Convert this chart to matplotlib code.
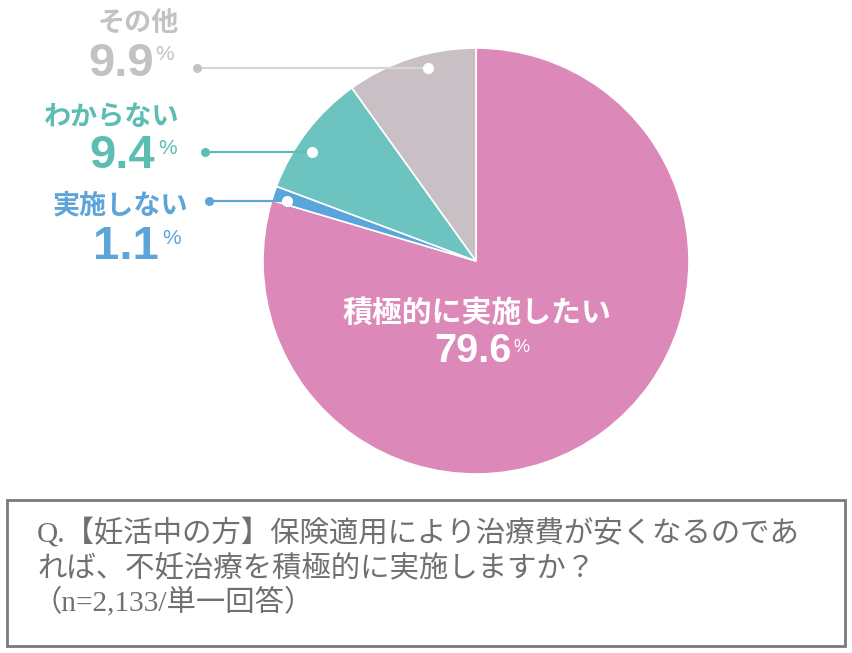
import matplotlib
matplotlib.use("Agg")
import matplotlib.pyplot as plt
from matplotlib.patches import Rectangle

# ---- data ----
categories = ["積極的に実施したい", "実施しない", "わからない", "その他"]
values = [79.6, 1.1, 9.4, 9.9]
value_labels = ["79.6", "1.1", "9.4", "9.9"]
question_lines = [
    "Q.【妊活中の方】保険適用により治療費が安くなるのであ",
    "れば、不妊治療を積極的に実施しますか？",
    "（n=2,133/単一回答）",
]

# ---- style ----
wedge_colors = ["#DC88B8", "#5AA6DC", "#6CC3C0", "#C9C0C5"]
label_colors = [None, "#5DA4D8", "#5CBDB3", "#C2C2C2"]
line_colors = [None, "#5DA4D8", "#5CBDB3", "#D6D6D6"]

W, H = 852, 653
fig = plt.figure(figsize=(W / 100, H / 100), dpi=100)
ax = fig.add_axes([0, 0, 1, 1])

def Y(y):
    return H - y

CJK = ["Noto Sans CJK JP", "DejaVu Sans"]
NUM = ["Liberation Sans", "DejaVu Sans"]

cx, cy, r = 476, 261, 213
ax.pie(values, colors=wedge_colors, startangle=90, counterclock=False,
       center=(cx, Y(cy)), radius=r, frame=True,
       wedgeprops=dict(edgecolor="white", linewidth=1.2))
ax.set_xlim(0, W)
ax.set_ylim(0, H)
ax.set_aspect("equal")
ax.set_axis_off()

# center label
ax.text(cx + 1, Y(313), categories[0], color="white", fontsize=21.5,
        fontweight="bold", family=CJK, ha="center", va="center")
ax.text(511, Y(351), value_labels[0], color="white", fontsize=28.5,
        fontweight="bold", family=NUM, ha="right", va="center")
ax.text(513, Y(347), "%", color="white", fontsize=13,
        family=NUM, ha="left", va="center")

# side labels: (label_right, label_y, num_right, num_y, pct_left, pct_y, dot_x, dot_y, end_x)
side = {
    3: (179, 24, 154, 64, 155, 54, 197, 68, 428),
    2: (179, 117, 155, 156, 158, 149, 205, 152, 312),
    1: (188, 205, 159, 247, 162, 238, 209, 201, 287),
}
for i, (lr, ly, nr, ny, pl, py, dx, dy, ex) in side.items():
    c = label_colors[i]
    ax.text(lr, Y(ly), categories[i], color=c, fontsize=19.5, fontweight="bold",
            family=CJK, ha="right", va="center")
    ax.text(nr, Y(ny), value_labels[i], color=c, fontsize=34, fontweight="bold",
            family=NUM, ha="right", va="center")
    ax.text(pl, Y(py), "%", color=c, fontsize=15, family=NUM,
            ha="left", va="center")
    ax.plot([dx, ex], [Y(dy), Y(dy)], color=line_colors[i], lw=1.6,
            solid_capstyle="butt", zorder=3)
    ax.plot([dx], [Y(dy)], "o", color=c, ms=6.5, mec="none", zorder=4)
    ax.plot([ex], [Y(dy)], "o", color="white", ms=8, mec="none", zorder=4)

# question box
ax.add_patch(Rectangle((7, Y(646)), 838, 146, fill=False,
                       edgecolor="#7A7A7A", linewidth=2, zorder=5))
QF = ["Liberation Serif", "Noto Sans CJK JP", "DejaVu Sans"]
for k, (line, yy) in enumerate(zip(question_lines, [533, 568, 601])):
    ax.text(37 if k < 2 else 33, Y(yy), line, color="#707070", fontsize=21.2,
            family=QF, ha="left", va="center", fontweight="normal")

fig.savefig("out.png", dpi=100)
